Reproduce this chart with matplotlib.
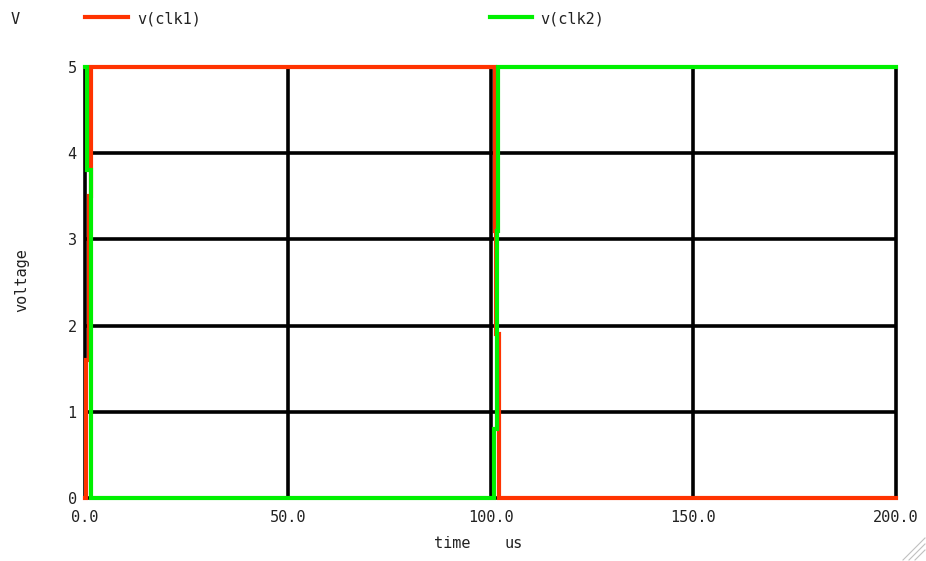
import matplotlib
matplotlib.use("Agg")
import matplotlib.pyplot as plt

# clk1 / clk2 waveforms (time in us, voltage in V)
t_clk1 = [0, 0.3, 0.3, 1.0, 1.0, 1.6, 1.6, 101.1, 101.1, 101.4, 101.4, 102.2, 102.2, 200]
v_clk1 = [0, 0, 1.6, 1.6, 3.5, 3.5, 5, 5, 3.1, 3.1, 1.9, 1.9, 0, 0]

t_clk2 = [0, 0.5, 0.5, 1.4, 1.4, 1.6, 1.6, 100.9, 100.9, 101.5, 101.5, 101.9, 101.9, 200]
v_clk2 = [5, 5, 3.8, 3.8, 1.6, 1.6, 0, 0, 0.8, 0.8, 3.1, 3.1, 5, 5]

x_ticks = [0, 50, 100, 150, 200]
x_labels = ["0.0", "50.0", "100.0", "150.0", "200.0"]
y_ticks = [0, 1, 2, 3, 4, 5]

RED = "#ff3300"
GREEN = "#00f000"
FONT = "DejaVu Sans Mono"
FS = 11
TXT = "#222222"

fig = plt.figure(figsize=(9.26, 5.61), dpi=100)
ax = fig.add_axes([85 / 926, 63 / 561, 811 / 926, 431 / 561])

ax.set_xlim(0, 200)
ax.set_ylim(0, 5)

# grid
for x in x_ticks[1:-1]:
    ax.axvline(x, color="black", lw=2.6, zorder=1)
for y in y_ticks[1:-1]:
    ax.axhline(y, color="black", lw=2.6, zorder=1)

for s in ax.spines.values():
    s.set_linewidth(2.6)
    s.set_color("black")

ax.plot(t_clk1, v_clk1, color=RED, lw=3, clip_on=False, zorder=3,
        solid_joinstyle="miter")
ax.plot(t_clk2, v_clk2, color=GREEN, lw=3, clip_on=False, zorder=4,
        solid_joinstyle="miter")

ax.set_xticks(x_ticks)
ax.set_xticklabels(x_labels, family=FONT, fontsize=FS, color=TXT)
ax.set_yticks(y_ticks)
ax.set_yticklabels([str(v) for v in y_ticks], family=FONT, fontsize=FS, color=TXT)
ax.tick_params(length=0, pad=6)
ax.tick_params(axis="x", pad=9)

# axis titles
fig.text(452 / 926, 1 - 543 / 561, "time", family=FONT, fontsize=FS,
         color=TXT, ha="center", va="center")
fig.text(514 / 926, 1 - 543 / 561, "us", family=FONT, fontsize=FS,
         color=TXT, ha="center", va="center")
fig.text(22 / 926, 1 - 280 / 561, "voltage", family=FONT, fontsize=FS,
         color=TXT, rotation=90, ha="center", va="center")
fig.text(15 / 926, 1 - 19 / 561, "V", family=FONT, fontsize=FS,
         color=TXT, ha="center", va="center")

# legend entries along the top
ly = 1 - 17 / 561
fig.add_artist(plt.Line2D([85 / 926, 128 / 926], [ly, ly], color=RED, lw=3))
fig.text(137 / 926, 1 - 19 / 561, "v(clk1)", family=FONT, fontsize=FS,
         color=TXT, va="center")
fig.add_artist(plt.Line2D([490 / 926, 532 / 926], [ly, ly], color=GREEN, lw=3))
fig.text(540 / 926, 1 - 19 / 561, "v(clk2)", family=FONT, fontsize=FS,
         color=TXT, va="center")

# little resize grip in the corner
for k in range(3):
    fig.add_artist(plt.Line2D([(903 + 6 * k) / 926, 925 / 926],
                              [1 / 561, (23 - 6 * k) / 561],
                              color="#c0c0c0", lw=0.8))

fig.savefig("out.png", dpi=100, facecolor="white")
